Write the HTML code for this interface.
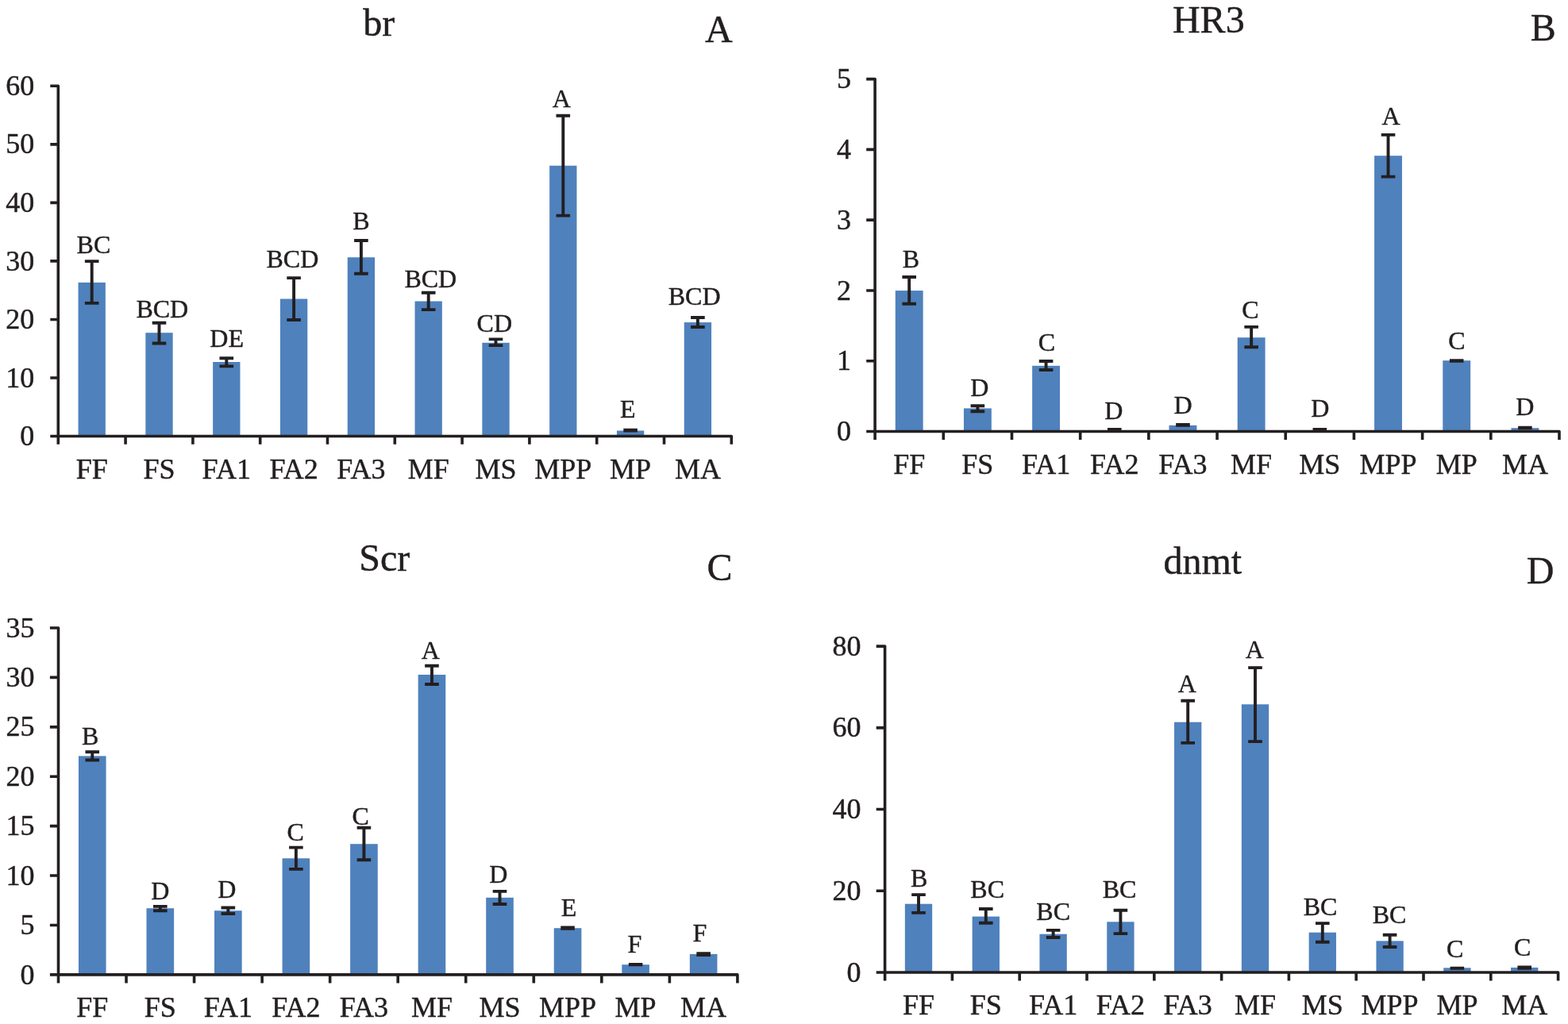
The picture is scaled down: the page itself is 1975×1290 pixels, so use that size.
<!DOCTYPE html>
<html lang="en">
<head>
<meta charset="utf-8">
<title>Relative expression of br, HR3, Scr and dnmt</title>
<style>
html,body{margin:0;padding:0;background:#fff;}
body{width:1975px;height:1290px;overflow:hidden;}
svg{display:block;}
text{font-family:"Liberation Serif","DejaVu Serif",serif;fill:#231f20;stroke:#231f20;stroke-width:0.45px;stroke-linejoin:round;}
.t{font-size:48px;text-anchor:middle;}
.p{font-size:48px;text-anchor:middle;}
.x{font-size:36px;text-anchor:middle;}
.y{font-size:36px;text-anchor:end;}
.s{font-size:32px;text-anchor:middle;}
.bar{fill:#4f81bd;}
.ax{stroke:#231f20;stroke-width:3.6;fill:none;stroke-linecap:butt;stroke-linejoin:round;}
.eb{stroke:#231f20;stroke-width:3.9;fill:none;stroke-linecap:butt;}
</style>
</head>
<body>
<svg width="1975" height="1290" viewBox="0 0 1975 1290">
<rect x="0" y="0" width="1975" height="1290" fill="#ffffff"/>
<g id="panel-A">
<text class="t" x="477.3" y="44.6">br</text>
<text class="p" x="905.3" y="52.5">A</text>
<rect class="bar" x="98.54" y="355.9" width="34.32" height="193.6"/>
<rect class="bar" x="183.34" y="419.2" width="34.32" height="130.3"/>
<rect class="bar" x="268.14" y="456" width="34.32" height="93.5"/>
<rect class="bar" x="352.94" y="376.5" width="34.32" height="173"/>
<rect class="bar" x="437.74" y="324.2" width="34.32" height="225.3"/>
<rect class="bar" x="522.54" y="379.5" width="34.32" height="170"/>
<rect class="bar" x="607.34" y="431.8" width="34.32" height="117.7"/>
<rect class="bar" x="692.14" y="208.7" width="34.32" height="340.8"/>
<rect class="bar" x="776.94" y="542.5" width="34.32" height="7"/>
<rect class="bar" x="861.74" y="406.1" width="34.32" height="143.4"/>
<path class="eb" d="M106.9 329.1H124.5M106.9 381.9H124.5M115.7 329.1V381.9M191.7 406.7H209.3M191.7 432.5H209.3M200.5 406.7V432.5M276.5 451.2H294.1M276.5 461.4H294.1M285.3 451.2V461.4M361.3 350.1H378.9M361.3 403H378.9M370.1 350.1V403M446.1 303H463.7M446.1 344.8H463.7M454.9 303V344.8M530.9 368.8H548.5M530.9 390.1H548.5M539.7 368.8V390.1M615.7 427.4H633.3M615.7 435.1H633.3M624.5 427.4V435.1M700.5 145.8H718.1M700.5 271.6H718.1M709.3 145.8V271.6M785.3 541.6H802.9M785.3 542.6H802.9M794.1 541.6V542.6M870.1 400H887.7M870.1 412H887.7M878.9 400V412"/>
<path class="ax" d="M63.3 108.3H73.3V559.7M63.3 549.5H921.3V559.7M63.3 475.97H73.3M63.3 402.43H73.3M63.3 328.9H73.3M63.3 255.37H73.3M63.3 181.83H73.3M158.1 549.5V559.7M242.9 549.5V559.7M327.7 549.5V559.7M412.5 549.5V559.7M497.3 549.5V559.7M582.1 549.5V559.7M666.9 549.5V559.7M751.7 549.5V559.7M836.5 549.5V559.7"/>
<text class="y" x="43.3" y="561.1">0</text>
<text class="y" x="43.3" y="487.57">10</text>
<text class="y" x="43.3" y="414.03">20</text>
<text class="y" x="43.3" y="340.5">30</text>
<text class="y" x="43.3" y="266.97">40</text>
<text class="y" x="43.3" y="193.43">50</text>
<text class="y" x="43.3" y="119.9">60</text>
<text class="x" x="115.7" y="603.4">FF</text>
<text class="x" x="200.5" y="603.4">FS</text>
<text class="x" x="285.3" y="603.4">FA1</text>
<text class="x" x="370.1" y="603.4">FA2</text>
<text class="x" x="454.9" y="603.4">FA3</text>
<text class="x" x="539.7" y="603.4">MF</text>
<text class="x" x="624.5" y="603.4">MS</text>
<text class="x" x="709.3" y="603.4">MPP</text>
<text class="x" x="794.1" y="603.4">MP</text>
<text class="x" x="878.9" y="603.4">MA</text>
<text class="s" x="117.9" y="318.6">BC</text>
<text class="s" x="204.3" y="399.7">BCD</text>
<text class="s" x="285.7" y="437">DE</text>
<text class="s" x="368.4" y="336.5">BCD</text>
<text class="s" x="454.8" y="288.6">B</text>
<text class="s" x="542.3" y="361.8">BCD</text>
<text class="s" x="622.8" y="417.8">CD</text>
<text class="s" x="707.3" y="134.8">A</text>
<text class="s" x="790.7" y="526.3">E</text>
<text class="s" x="874.6" y="383.8">BCD</text>
</g>
<g id="panel-B">
<text class="t" x="1522.3" y="40.5">HR3</text>
<text class="p" x="1943.8" y="50.9">B</text>
<rect class="bar" x="1127.76" y="366.1" width="34.88" height="177.4"/>
<rect class="bar" x="1213.95" y="514.4" width="34.88" height="29.1"/>
<rect class="bar" x="1300.14" y="460.8" width="34.88" height="82.7"/>
<rect class="bar" x="1386.33" y="542.2" width="34.88" height="1.3"/>
<rect class="bar" x="1472.52" y="535.8" width="34.88" height="7.7"/>
<rect class="bar" x="1558.71" y="425.2" width="34.88" height="118.3"/>
<rect class="bar" x="1644.9" y="542.2" width="34.88" height="1.3"/>
<rect class="bar" x="1731.09" y="196.2" width="34.88" height="347.3"/>
<rect class="bar" x="1817.28" y="454.2" width="34.88" height="89.3"/>
<rect class="bar" x="1903.47" y="539.2" width="34.88" height="4.3"/>
<path class="eb" d="M1136.39 349H1153.99M1136.39 382.8H1153.99M1145.19 349V382.8M1222.59 511.3H1240.18M1222.59 518.3H1240.18M1231.38 511.3V518.3M1308.77 455H1326.37M1308.77 466H1326.37M1317.57 455V466M1394.96 541H1412.56M1394.96 541.6H1412.56M1403.76 541V541.6M1481.15 535H1498.75M1481.15 535.8H1498.75M1489.95 535V535.8M1567.35 411.9H1584.94M1567.35 437.3H1584.94M1576.14 411.9V437.3M1653.54 541H1671.13M1653.54 541.6H1671.13M1662.34 541V541.6M1739.72 169.9H1757.32M1739.72 222.6H1757.32M1748.52 169.9V222.6M1825.91 454.1H1843.51M1825.91 454.7H1843.51M1834.71 454.1V454.7M1912.1 538.7H1929.7M1912.1 539.3H1929.7M1920.9 538.7V539.3"/>
<path class="ax" d="M1091.2 99.6H1102.1V554M1091.2 543.5H1964V554M1091.2 454.72H1102.1M1091.2 365.94H1102.1M1091.2 277.16H1102.1M1091.2 188.38H1102.1M1188.29 543.5V554M1274.48 543.5V554M1360.67 543.5V554M1446.86 543.5V554M1533.05 543.5V554M1619.24 543.5V554M1705.43 543.5V554M1791.62 543.5V554M1877.81 543.5V554"/>
<text class="y" x="1072.1" y="555.1">0</text>
<text class="y" x="1072.1" y="466.32">1</text>
<text class="y" x="1072.1" y="377.54">2</text>
<text class="y" x="1072.1" y="288.76">3</text>
<text class="y" x="1072.1" y="199.98">4</text>
<text class="y" x="1072.1" y="111.2">5</text>
<text class="x" x="1145.19" y="596.7">FF</text>
<text class="x" x="1231.38" y="596.7">FS</text>
<text class="x" x="1317.57" y="596.7">FA1</text>
<text class="x" x="1403.76" y="596.7">FA2</text>
<text class="x" x="1489.95" y="596.7">FA3</text>
<text class="x" x="1576.14" y="596.7">MF</text>
<text class="x" x="1662.34" y="596.7">MS</text>
<text class="x" x="1748.52" y="596.7">MPP</text>
<text class="x" x="1834.71" y="596.7">MP</text>
<text class="x" x="1920.9" y="596.7">MA</text>
<text class="s" x="1147.3" y="336.7">B</text>
<text class="s" x="1233.8" y="498.7">D</text>
<text class="s" x="1318.5" y="441.5">C</text>
<text class="s" x="1402.8" y="528.4">D</text>
<text class="s" x="1490.1" y="520.9">D</text>
<text class="s" x="1574.9" y="401.3">C</text>
<text class="s" x="1662.9" y="524.7">D</text>
<text class="s" x="1752.1" y="156.7">A</text>
<text class="s" x="1834.8" y="440">C</text>
<text class="s" x="1920.7" y="522.8">D</text>
</g>
<g id="panel-C">
<text class="t" x="484.2" y="718.9">Scr</text>
<text class="p" x="906.5" y="731.3">C</text>
<rect class="bar" x="98.96" y="952.4" width="34.62" height="275.5"/>
<rect class="bar" x="184.5" y="1144.2" width="34.62" height="83.7"/>
<rect class="bar" x="270.04" y="1147.2" width="34.62" height="80.7"/>
<rect class="bar" x="355.58" y="1081.3" width="34.62" height="146.6"/>
<rect class="bar" x="441.12" y="1063.2" width="34.62" height="164.7"/>
<rect class="bar" x="526.66" y="850" width="34.62" height="377.9"/>
<rect class="bar" x="612.2" y="1130.8" width="34.62" height="97.1"/>
<rect class="bar" x="697.74" y="1169.2" width="34.62" height="58.7"/>
<rect class="bar" x="783.28" y="1215.2" width="34.62" height="12.7"/>
<rect class="bar" x="868.82" y="1201.9" width="34.62" height="26"/>
<path class="eb" d="M107.47 947.2H125.07M107.47 957.5H125.07M116.27 947.2V957.5M193.01 1141.9H210.61M193.01 1147.3H210.61M201.81 1141.9V1147.3M278.55 1143.5H296.15M278.55 1151H296.15M287.35 1143.5V1151M364.09 1067.6H381.69M364.09 1094.9H381.69M372.89 1067.6V1094.9M449.63 1042.7H467.23M449.63 1083.3H467.23M458.43 1042.7V1083.3M535.17 838.8H552.77M535.17 862H552.77M543.97 838.8V862M620.71 1122.9H638.31M620.71 1139H638.31M629.51 1122.9V1139M706.25 1168.4H723.85M706.25 1169.8H723.85M715.05 1168.4V1169.8M791.79 1214.9H809.39M791.79 1215.3H809.39M800.59 1214.9V1215.3M877.33 1201.2H894.93M877.33 1203H894.93M886.13 1201.2V1203"/>
<path class="ax" d="M62.9 791H73.5V1238.4M62.9 1227.9H928.9V1238.4M62.9 1165.49H73.5M62.9 1103.07H73.5M62.9 1040.66H73.5M62.9 978.24H73.5M62.9 915.83H73.5M62.9 853.41H73.5M159.04 1227.9V1238.4M244.58 1227.9V1238.4M330.12 1227.9V1238.4M415.66 1227.9V1238.4M501.2 1227.9V1238.4M586.74 1227.9V1238.4M672.28 1227.9V1238.4M757.82 1227.9V1238.4M843.36 1227.9V1238.4"/>
<text class="y" x="43.5" y="1239.5">0</text>
<text class="y" x="43.5" y="1177.09">5</text>
<text class="y" x="43.5" y="1114.67">10</text>
<text class="y" x="43.5" y="1052.26">15</text>
<text class="y" x="43.5" y="989.84">20</text>
<text class="y" x="43.5" y="927.43">25</text>
<text class="y" x="43.5" y="865.01">30</text>
<text class="y" x="43.5" y="802.6">35</text>
<text class="x" x="116.27" y="1280.9">FF</text>
<text class="x" x="201.81" y="1280.9">FS</text>
<text class="x" x="287.35" y="1280.9">FA1</text>
<text class="x" x="372.89" y="1280.9">FA2</text>
<text class="x" x="458.43" y="1280.9">FA3</text>
<text class="x" x="543.97" y="1280.9">MF</text>
<text class="x" x="629.51" y="1280.9">MS</text>
<text class="x" x="715.05" y="1280.9">MPP</text>
<text class="x" x="800.59" y="1280.9">MP</text>
<text class="x" x="886.13" y="1280.9">MA</text>
<text class="s" x="113.6" y="937.7">B</text>
<text class="s" x="201.9" y="1132.8">D</text>
<text class="s" x="285.9" y="1131.3">D</text>
<text class="s" x="372.1" y="1059.3">C</text>
<text class="s" x="454.2" y="1038.6">C</text>
<text class="s" x="542.4" y="829.7">A</text>
<text class="s" x="627.7" y="1112">D</text>
<text class="s" x="716.6" y="1153.8">E</text>
<text class="s" x="799.5" y="1199.6">F</text>
<text class="s" x="881.4" y="1185.7">F</text>
</g>
<g id="panel-D">
<text class="t" x="1514.8" y="722.7">dnmt</text>
<text class="p" x="1940.2" y="734.7">D</text>
<rect class="bar" x="1139.84" y="1138.7" width="34.32" height="86.3"/>
<rect class="bar" x="1224.64" y="1154.6" width="34.32" height="70.4"/>
<rect class="bar" x="1309.44" y="1176.7" width="34.32" height="48.3"/>
<rect class="bar" x="1394.24" y="1161.3" width="34.32" height="63.7"/>
<rect class="bar" x="1479.04" y="909.7" width="34.32" height="315.3"/>
<rect class="bar" x="1563.84" y="887.3" width="34.32" height="337.7"/>
<rect class="bar" x="1648.64" y="1174.7" width="34.32" height="50.3"/>
<rect class="bar" x="1733.44" y="1185.4" width="34.32" height="39.6"/>
<rect class="bar" x="1818.24" y="1219.3" width="34.32" height="5.7"/>
<rect class="bar" x="1903.04" y="1218.9" width="34.32" height="6.1"/>
<path class="eb" d="M1148.2 1127.1H1165.8M1148.2 1149.9H1165.8M1157 1127.1V1149.9M1233 1145H1250.6M1233 1162.8H1250.6M1241.8 1145V1162.8M1317.8 1171.9H1335.4M1317.8 1181H1335.4M1326.6 1171.9V1181M1402.6 1146.7H1420.2M1402.6 1176.1H1420.2M1411.4 1146.7V1176.1M1487.4 882.7H1505M1487.4 935.9H1505M1496.2 882.7V935.9M1572.2 841.1H1589.8M1572.2 934.1H1589.8M1581 841.1V934.1M1657 1163.1H1674.6M1657 1186.7H1674.6M1665.8 1163.1V1186.7M1741.8 1177.8H1759.4M1741.8 1193H1759.4M1750.6 1177.8V1193M1826.6 1219.6H1844.2M1826.6 1219.8H1844.2M1835.4 1219.6V1219.8M1911.4 1218.4H1929M1911.4 1219.8H1929M1920.2 1218.4V1219.8"/>
<path class="ax" d="M1103.7 814.1H1114.6V1235.6M1103.7 1225H1962.6V1235.6M1103.7 1122.28H1114.6M1103.7 1019.55H1114.6M1103.7 916.83H1114.6M1199.4 1225V1235.6M1284.2 1225V1235.6M1369 1225V1235.6M1453.8 1225V1235.6M1538.6 1225V1235.6M1623.4 1225V1235.6M1708.2 1225V1235.6M1793 1225V1235.6M1877.8 1225V1235.6"/>
<text class="y" x="1084.6" y="1236.6">0</text>
<text class="y" x="1084.6" y="1133.88">20</text>
<text class="y" x="1084.6" y="1031.15">40</text>
<text class="y" x="1084.6" y="928.43">60</text>
<text class="y" x="1084.6" y="825.7">80</text>
<text class="x" x="1157" y="1278">FF</text>
<text class="x" x="1241.8" y="1278">FS</text>
<text class="x" x="1326.6" y="1278">FA1</text>
<text class="x" x="1411.4" y="1278">FA2</text>
<text class="x" x="1496.2" y="1278">FA3</text>
<text class="x" x="1581" y="1278">MF</text>
<text class="x" x="1665.8" y="1278">MS</text>
<text class="x" x="1750.6" y="1278">MPP</text>
<text class="x" x="1835.4" y="1278">MP</text>
<text class="x" x="1920.2" y="1278">MA</text>
<text class="s" x="1157.7" y="1116.6">B</text>
<text class="s" x="1243.7" y="1130.8">BC</text>
<text class="s" x="1326.7" y="1158.6">BC</text>
<text class="s" x="1410" y="1130.8">BC</text>
<text class="s" x="1495.3" y="871.8">A</text>
<text class="s" x="1580.2" y="828.5">A</text>
<text class="s" x="1663" y="1152.7">BC</text>
<text class="s" x="1750.1" y="1162.5">BC</text>
<text class="s" x="1832.6" y="1205.7">C</text>
<text class="s" x="1917.6" y="1203.7">C</text>
</g>
</svg>
</body>
</html>
